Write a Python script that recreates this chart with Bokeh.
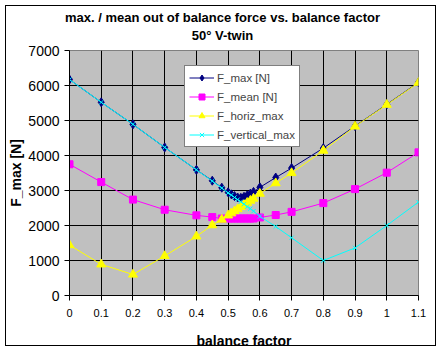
from bokeh.plotting import figure
from bokeh.models import Range1d, FixedTicker, Legend, LegendItem, LinearAxis
from bokeh.embed import file_html
from bokeh.resources import INLINE

# ---- data ----
balance_factor = [0, 0.1, 0.2, 0.3, 0.4, 0.45, 0.48, 0.5, 0.51, 0.52, 0.53, 0.54, 0.55,
                  0.56, 0.57, 0.58, 0.6, 0.65, 0.7, 0.8, 0.9, 1.0, 1.1]
f_max = [6170, 5520, 4890, 4230, 3590, 3280, 3080, 2950, 2890, 2840, 2800, 2790, 2820,
         2860, 2910, 2960, 3090, 3370, 3640, 4210, 4840, 5460, 6090]
f_mean = [3750, 3240, 2740, 2450, 2290, 2240, 2200, 2200, 2200, 2200, 2200, 2200, 2200,
          2200, 2200, 2200, 2230, 2300, 2390, 2640, 3040, 3510, 4090]
f_horiz_max = [1440, 890, 600, 1130, 1690, 2010, 2170, 2290, 2350, 2410, 2470, 2530, 2590,
               2650, 2710, 2770, 2910, 3210, 3500, 4140, 4830, 5450, 6080]
f_vertical_max = [6170, 5520, 4890, 4230, 3590, 3270, 3070, 2930, 2870, 2800, 2740, 2680, 2610,
                  2540, 2480, 2410, 2260, 1970, 1650, 1000, 1360, 2000, 2670]

x_ticks = [0, 0.1, 0.2, 0.3, 0.4, 0.5, 0.6, 0.7, 0.8, 0.9, 1.0, 1.1]
x_tick_labels = ["0", "0.1", "0.2", "0.3", "0.4", "0.5", "0.6", "0.7", "0.8", "0.9", "1", "1.1"]
y_ticks = [0, 1000, 2000, 3000, 4000, 5000, 6000, 7000]
y_tick_labels = ["0", "1000", "2000", "3000", "4000", "5000", "6000", "7000"]

title_1 = "max. / mean out of balance force vs. balance factor"
title_2 = "50° V-twin"
x_title = "balance factor"
y_title = "F_max [N]"
series_names = ["F_max [N]", "F_mean [N]", "F_horiz_max", "F_vertical_max"]

FONT = "Liberation Sans"
TITLE_X = 0.4822   # horizontal centre of the chart area, in data units of the x axis

p = figure(width=441, height=351, output_backend="svg", toolbar_location=None,
           x_range=Range1d(0, 1.1), y_range=Range1d(0, 7000),
           min_border_left=69, min_border_right=23, min_border_top=50, min_border_bottom=56)
# outer chart-area border (drawn by the host element behind a transparent canvas border)
p.styles = {"background-color": "white",
            "box-shadow": "inset 0 0 0 5px white, inset 0 0 0 6px black"}
p.background_fill_color = "#C0C0C0"
p.border_fill_alpha = 0
p.outline_line_color = "#808080"
p.outline_line_width = 1
p.title.visible = False

for ax, ticks, labels, fs, so in ((p.xaxis[0], x_ticks, x_tick_labels, "11px", 8),
                                  (p.yaxis[0], y_ticks, y_tick_labels, "14px", 5)):
    ax.ticker = FixedTicker(ticks=ticks)
    ax.major_label_overrides = {t: l for t, l in zip(ticks, labels)}
    ax.major_tick_out = 5
    ax.major_tick_in = 0
    ax.minor_tick_line_color = None
    ax.axis_line_color = "black"
    ax.major_tick_line_color = "black"
    ax.major_label_text_font = FONT
    ax.major_label_text_font_size = fs
    ax.major_label_text_color = "black"
    ax.major_label_standoff = so
    ax.axis_label_text_font = FONT
    ax.axis_label_text_font_size = "14px"
    ax.axis_label_text_font_style = "bold"
    ax.axis_label_text_color = "black"

p.xaxis.axis_label = x_title
p.yaxis.axis_label = y_title
p.xaxis.axis_label_standoff = 13
p.yaxis.axis_label_standoff = 1

p.xgrid.ticker = FixedTicker(ticks=x_ticks)
p.ygrid.ticker = FixedTicker(ticks=y_ticks)
for g in (p.xgrid[0], p.ygrid[0]):
    g.grid_line_color = "black"
    g.grid_line_width = 1
    g.grid_line_alpha = 1

series = [
    (f_max, "#000080", "diamond", 9),
    (f_mean, "#FF00FF", "square", 7),
    (f_horiz_max, "#FFFF00", "triangle", 9),
    (f_vertical_max, "#00FFFF", "x", 6),
]
items = []
for (vals, color, marker, size), name in zip(series, series_names):
    ln = p.line(balance_factor, vals, line_color=color, line_width=1)
    sc = p.scatter(balance_factor, vals, marker=marker, size=size,
                   fill_color=color, line_color=color, line_width=1)
    items.append(LegendItem(label=name, renderers=[ln, sc]))

legend = Legend(items=items, location=(115, 148), orientation="vertical",
                background_fill_color="white", background_fill_alpha=1,
                border_line_color="black", border_line_width=1,
                label_text_font=FONT, label_text_font_size="11.5px",
                glyph_width=25, glyph_height=15, label_height=15, label_standoff=3,
                spacing=4, padding=4, margin=0)
p.add_layout(legend, "center")

# two title lines, each drawn as the single label of a bare axis above the frame
# (first added sits nearest the frame)
for text, standoff in ((title_2, 8), (title_1, 0)):
    ax = LinearAxis(ticker=FixedTicker(ticks=[TITLE_X]),
                    major_label_overrides={TITLE_X: text},
                    axis_line_color=None, major_tick_line_color=None,
                    minor_tick_line_color=None, major_tick_out=0, major_tick_in=0,
                    minor_tick_out=0, minor_tick_in=0, major_label_standoff=standoff,
                    major_label_text_font=FONT, major_label_text_font_size="13px",
                    major_label_text_font_style="bold", major_label_text_color="black",
                    axis_label=None)
    p.add_layout(ax, "above")

open("out.html", "w").write(file_html(p, INLINE))
